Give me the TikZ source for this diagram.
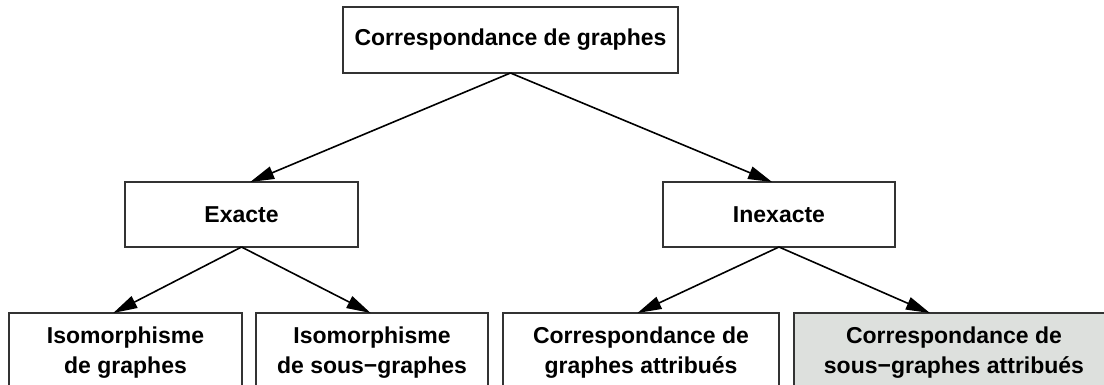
\documentclass[tikz,border=0pt]{standalone}
\usepackage{fontspec}
\setmainfont{Liberation Sans}
\usetikzlibrary{arrows.meta}
\definecolor{boxgray}{RGB}{221,224,221}

\begin{document}
\begin{tikzpicture}[x=0.5pt, y=0.5pt, line width=0.8pt,
  font=\fontsize{11.5}{15}\selectfont\bfseries,
  box/.style={draw=black!80, rectangle, align=center, outer sep=0pt, inner sep=0pt},
  arr/.style={-{Triangle[length=12pt,width=6.5pt]}, black}]
\useasboundingbox (0,0) rectangle (1104,385);
% root and first level
\node[box, minimum width=167.5pt, minimum height=33pt] (root) at (510.5,345) {Correspondance de graphes};
\node[box, minimum width=116.5pt, minimum height=32.5pt] (exacte) at (241.5,170.5) {Exacte};
\node[box, minimum width=116pt, minimum height=32.5pt] (inexacte) at (779,170.5) {Inexacte};
% leaves (cut by the page edge)
\node[box, minimum width=116.5pt, minimum height=40pt] (isograph) at (125.5,32) {Isomorphisme\\de graphes};
\node[box, minimum width=116pt, minimum height=40pt] (isosub) at (372,32) {Isomorphisme\\de sous−graphes};
\node[box, minimum width=138pt, minimum height=40pt] (corrattr) at (641,32) {Correspondance de\\graphes attribués};
\node[box, fill=boxgray, minimum width=160pt, minimum height=40pt] (corrsub) at (954,32) {Correspondance de\\sous−graphes attribués};
% arrows
\draw[arr] (root.south) -- (exacte.75.3);
\draw[arr] (root.south) -- (inexacte.102.2);
\draw[arr] (exacte.south) -- (isograph.107.3);
\draw[arr] (exacte.south) -- (isosub.92.9);
\draw[arr] (inexacte.south) -- (corrattr.95.8);
\draw[arr] (inexacte.south) -- (corrsub.121);
\end{tikzpicture}
\end{document}
